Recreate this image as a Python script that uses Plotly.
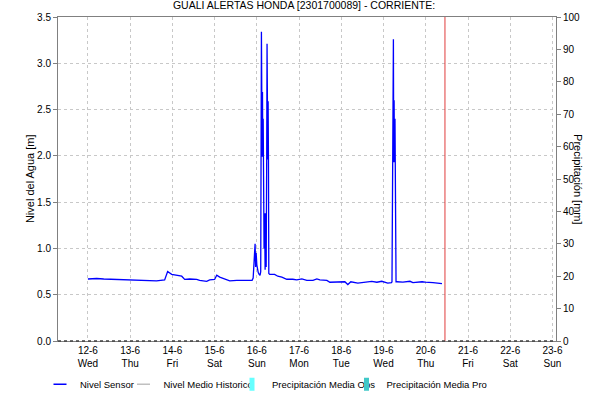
import pandas as pd
import plotly.graph_objects as go

# ── Data (hours after 12-6 00:00, level in m) ────────────────────────────────
START = pd.Timestamp("2024-06-12 00:00")

horas = [
    0, 5, 9, 14.6, 18, 23.7, 24.9, 26.6, 28.3, 33.4, 35, 39, 43.6, 45.3, 47.6,
    51, 53.3, 55, 57.8, 61.8, 63.5, 67.5, 69.2, 72, 73.2, 74.9, 76.6, 78.9,
    80.6, 84.6, 88.2, 91, 93.3,
    # crecida 16-6
    93.9, 94.3, 94.7, 95.0, 95.3, 95.6, 96.0, 96.3, 96.8, 97.3, 97.8, 98.2,
    98.4, 98.6, 98.8, 99.0, 99.2, 99.4, 99.6, 99.8, 100.1, 100.4, 100.7,
    101.0, 101.3, 101.6, 101.8, 102.0, 102.2, 102.4, 102.6, 102.8, 103.3,
    106.1, 107.9, 110.2, 113, 116.4, 118.7, 121.6, 124.4, 127.9, 130.1, 131.8,
    135.8, 137.5, 141.5, 146, 147.7, 149.4, 153.4, 156.2, 161.3, 164.2, 167,
    170.4, 172.5, 172.8,
    # crecida 19-6
    173.1, 173.4, 173.6, 173.8, 174.0, 174.2, 174.5, 174.8, 175.1,
    175.6, 179, 183, 184.7, 189.9, 191.6, 196.1, 200.1, 201.2,
]
nivel = [
    0.67, 0.675, 0.67, 0.665, 0.665, 0.66, 0.655, 0.66, 0.655, 0.655, 0.65,
    0.65, 0.66, 0.75, 0.72, 0.705, 0.70, 0.665, 0.67, 0.665, 0.655, 0.645,
    0.66, 0.665, 0.71, 0.69, 0.68, 0.665, 0.65, 0.655, 0.655, 0.65, 0.655,
    0.68, 0.88, 0.98, 1.05, 0.80, 0.95, 0.82, 0.77, 0.74, 0.72, 0.71, 0.75,
    2.03, 3.34, 2.69, 1.99, 2.69, 1.99, 2.40, 1.42, 1.00, 1.38, 0.77,
    1.38, 0.80, 1.96, 3.21, 2.59, 1.96, 2.59, 1.96, 0.73, 0.72,
    0.72, 0.70, 0.69, 0.667, 0.667, 0.66, 0.67, 0.655, 0.655, 0.67, 0.66,
    0.655, 0.635, 0.64, 0.64, 0.61, 0.64, 0.625, 0.635, 0.645, 0.635, 0.645,
    0.625, 0.63, 0.64,
    1.93, 2.60, 3.26, 1.93, 2.60, 1.93, 2.40, 1.29, 0.64,
    0.64, 0.635, 0.645, 0.63, 0.64, 0.635, 0.63, 0.625, 0.62,
]

dias = [12, 13, 14, 15, 16, 17, 18, 19, 20, 21, 22, 23]
dias_semana = ["Wed", "Thu", "Fri", "Sat", "Sun", "Mon", "Tue", "Wed", "Thu", "Fri", "Sat", "Sun"]
hora_actual = 202.9

tiempo = [START + pd.Timedelta(hours=h) for h in horas]
tickvals = [pd.Timestamp(2024, 6, d) for d in dias]
ticktext = [f"{d}-6<br>{w}" for d, w in zip(dias, dias_semana)]

FONT = "Liberation Sans, Arial, sans-serif"
GRID = "#c8c8c8"
AXIS = "#808080"


def leyenda(x):
    # one small legend box per series, placed along the bottom
    return dict(
        orientation="h", x=x, xanchor="left", xref="container",
        y=0.042, yanchor="middle", yref="container",
        font=dict(size=9.5), itemwidth=30, bgcolor="rgba(0,0,0,0)",
    )


def simbolo(name, color, width, legend, symbol="line-ew"):
    # legend-only entry with a compact (13 px) symbol
    return go.Scatter(
        x=[None], y=[None], mode="markers", name=name, legend=legend,
        marker=dict(symbol=symbol, size=9.3, color=color,
                    line=dict(width=width, color=color)),
    )


fig = go.Figure()

fig.add_trace(go.Scatter(
    x=tiempo, y=nivel, mode="lines", name="Nivel Sensor", showlegend=False,
    line=dict(color="#0000ff", width=1.3),
))
fig.add_trace(simbolo("Nivel Sensor", "#0000ff", 1.5, "legend"))
fig.add_trace(simbolo("Nivel Medio Historico", "#c0c0c0", 1.5, "legend2"))
fig.add_trace(simbolo("Precipitación Media Obs", "#66ffff", 5, "legend3", "line-ns"))
fig.add_trace(simbolo("Precipitación Media Pro", "#40c8c8", 5, "legend4", "line-ns"))
fig.add_trace(go.Scatter(x=[None], y=[None], yaxis="y2", showlegend=False))

fig.update_layout(
    width=608, height=401,
    paper_bgcolor="white", plot_bgcolor="white",
    font=dict(family=FONT, size=11, color="#000000"),
    margin=dict(l=58, r=52, t=17, b=60, autoexpand=False),
    title=dict(
        text="GUALI ALERTAS HONDA [2301700089] - CORRIENTE:",
        x=0.5, xanchor="center", xref="container",
        y=0.997, yanchor="top",
        font=dict(size=10.5, color="#000000"),
    ),
    xaxis=dict(
        range=[START - pd.Timedelta(hours=17), START + pd.Timedelta(hours=266)],
        tickvals=tickvals, ticktext=ticktext,
        showgrid=True, gridcolor=GRID, griddash="dot", gridwidth=1,
        showline=True, linecolor=AXIS, mirror=True,
        ticks="", zeroline=False, automargin=False,
        tickfont=dict(size=10),
    ),
    yaxis=dict(
        range=[0, 3.5], dtick=0.5, tickformat=".1f",
        showgrid=True, gridcolor=GRID, griddash="dot", gridwidth=1,
        showline=True, linecolor=AXIS, mirror=True,
        ticks="outside", ticklen=4, tickcolor=AXIS,
        zeroline=False, automargin=False, tickfont=dict(size=10),
    ),
    yaxis2=dict(
        range=[0, 100], dtick=10, overlaying="y", side="right",
        showgrid=False, showline=True, linecolor=AXIS,
        ticks="outside", ticklen=4, tickcolor=AXIS,
        zeroline=False, automargin=False, tickfont=dict(size=10),
    ),
    legend=leyenda(40 / 608),
    legend2=leyenda(123.5 / 608),
    legend3=leyenda(232 / 608),
    legend4=leyenda(346.5 / 608),
    showlegend=True,
    shapes=[
        dict(type="line", xref="x", yref="paper",
             x0=START + pd.Timedelta(hours=hora_actual),
             x1=START + pd.Timedelta(hours=hora_actual),
             y0=0, y1=1, line=dict(color="#e03c3c", width=1)),
        dict(type="line", xref="paper", yref="paper",
             x0=0, x1=1, y0=0, y1=0,
             line=dict(color="#404040", width=1.5, dash="dot")),
    ],
    annotations=[
        dict(text="Nivel del Agua [m]", xref="paper", yref="paper",
             x=-0.056, y=0.5, xanchor="center", yanchor="middle",
             textangle=-90, showarrow=False, font=dict(size=11)),
        dict(text="Precipitación [mm]", xref="paper", yref="paper",
             x=1.044, y=0.5, xanchor="center", yanchor="middle",
             textangle=90, showarrow=False, font=dict(size=11)),
    ],
)

# the page body has a default 8px margin; remove it so the figure sits at 0,0
fig.write_html(
    "out.html",
    config={"displayModeBar": False},
    post_script="document.body.style.margin='0';",
)
